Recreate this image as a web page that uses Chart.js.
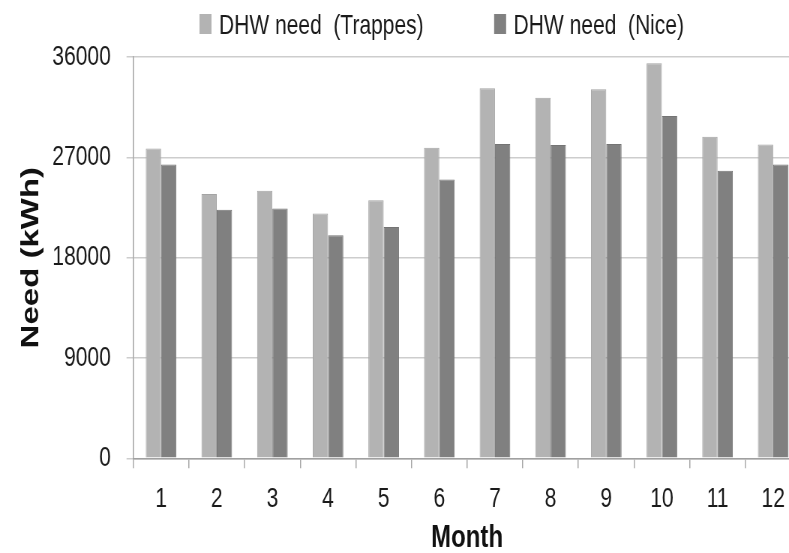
<!DOCTYPE html>
<html>
<head>
<meta charset="utf-8">
<script src="https://cdn.jsdelivr.net/npm/chart.js@4/dist/chart.umd.min.js"></script>
<style>
  html, body { margin: 0; padding: 0; background: #fff; overflow: hidden; }
  /* the source figure is squeezed sideways, so draw wide and squeeze it the same way */
  #wrap { width: 1075px; height: 553px; transform: scaleX(0.75); transform-origin: 0 0; }
</style>
</head>
<body>
<div id="wrap"><canvas id="needChart" width="1075" height="553"></canvas></div>
<script>
const months = ['1', '2', '3', '4', '5', '6', '7', '8', '9', '10', '11', '12'];
const trappesNeed = [27800, 23700, 24000, 21950, 23150, 27850, 33200, 32350, 33100, 35450, 28850, 28150];
const niceNeed = [26350, 22300, 22400, 20000, 20750, 25000, 28200, 28100, 28200, 30700, 25800, 26350];
const seriesNames = ['DHW need  (Trappes)', 'DHW need  (Nice)'];
const yTicks = [0, 9000, 18000, 27000, 36000];

const sans = '"Liberation Sans", Arial, sans-serif';

// legend drawn by hand so the gap between the two items can match
const legendPlugin = {
    id: 'topLegend',
    afterDraw(chart) {
        const ctx = chart.ctx;
        const sets = chart.data.datasets;
        ctx.save();
        ctx.font = '28px ' + sans;
        ctx.textBaseline = 'alphabetic';
        const boxW = 16, boxH = 20, gap = 10, spacing = 94;
        const widths = sets.map(ds => ctx.measureText(ds.label).width);
        let total = 0;
        widths.forEach((w, i) => { total += boxW + gap + w + (i ? spacing : 0); });
        let x = 589 - total / 2;
        sets.forEach((ds, i) => {
            ctx.fillStyle = ds.backgroundColor;
            ctx.fillRect(x, 14, boxW, boxH);
            ctx.fillStyle = '#1a1a1a';
            ctx.fillText(ds.label, x + boxW + gap, 34);
            x += boxW + gap + widths[i] + spacing;
        });
        ctx.restore();
    }
};

const ctx = document.getElementById('needChart').getContext('2d');
new Chart(ctx, {
    type: 'bar',
    data: {
        labels: months,
        datasets: [{
            label: seriesNames[0],
            data: trappesNeed,
            backgroundColor: '#b3b3b3',
            borderColor: '#a4a4a4',
            borderWidth: 1,
            categoryPercentage: 0.55,
            barPercentage: 1
        }, {
            label: seriesNames[1],
            data: niceNeed,
            backgroundColor: '#808080',
            borderColor: '#747474',
            borderWidth: 1,
            categoryPercentage: 0.55,
            barPercentage: 1
        }]
    },
    options: {
        responsive: false,
        animation: false,
        devicePixelRatio: 1,
        layout: { padding: { top: 57, left: 0, right: 7, bottom: 0 } },
        plugins: {
            legend: { display: false },
            tooltip: { enabled: false }
        },
        scales: {
            x: {
                afterFit: scale => { scale.height = 94.7; },
                grid: {
                    drawOnChartArea: false,
                    drawTicks: true,
                    tickLength: 10,
                    lineWidth: 1.5,
                    color: '#a8a8a8',
                    offset: true
                },
                border: { color: '#a0a0a0', width: 1.5 },
                ticks: {
                    color: '#1a1a1a',
                    padding: 14,
                    font: { family: sans, size: 28 }
                },
                title: {
                    display: true,
                    text: 'Month',
                    color: '#111',
                    padding: { top: 0, bottom: 0 },
                    font: { family: sans, size: 32, weight: 'bold', lineHeight: 0.9 }
                }
            },
            y: {
                min: 0,
                max: 36000,
                afterFit: scale => { scale.width = 177.7; },
                afterBuildTicks: scale => { scale.ticks = yTicks.map(v => ({ value: v })); },
                grid: {
                    color: '#cdcdcd',
                    tickLength: 9,
                    lineWidth: 1.5
                },
                border: { color: '#a0a0a0', width: 1.5 },
                ticks: {
                    color: '#1a1a1a',
                    padding: 21,
                    font: { family: sans, size: 28 },
                    callback: value => String(value)
                },
                title: {
                    display: true,
                    text: 'Need (kWh)',
                    color: '#111',
                    padding: { top: 22, bottom: 0 },
                    font: { family: sans, size: 33, weight: 'bold' }
                }
            }
        }
    },
    plugins: [legendPlugin]
});
</script>
</body>
</html>
